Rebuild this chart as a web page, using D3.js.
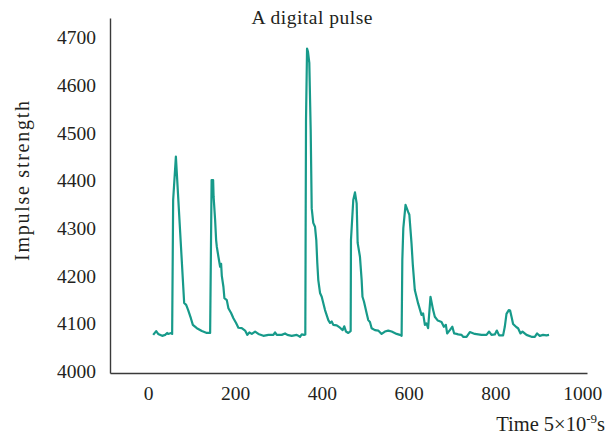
<!DOCTYPE html>
<html>
<head>
<meta charset="utf-8">
<script src="https://cdn.jsdelivr.net/npm/d3@7"></script>
<style>
  html, body { margin: 0; padding: 0; background: #fff; }
  svg { display: block; }
  text { font-family: "Liberation Serif", "Times New Roman", serif; fill: #231f20; }
</style>
</head>
<body>
<svg id="chart" width="615" height="436"></svg>
<script>
// Sample times (units of 5 ns)
const time = [
  11.5, 18.4, 23, 32.2, 39.1, 43.7, 46, 52.9, 55.2, 57.5, 63.8, 82.9, 87.5, 92.1, 98.3,
  102.9, 112.1, 123.6, 135.1, 142.7, 146.1, 149.6, 150.7, 154.2, 156.5, 158.1, 161.8,
  165.7, 168, 169.6, 173.3, 175.6, 181.1, 184.8, 191, 196.3, 202.5, 207.8, 215.6, 223.2,
  228.5, 233.1, 238.7, 246.3, 253.9, 265.4, 276.9, 288.4, 292.3, 296.2, 307.7, 315.3,
  320.6, 330.7, 342.2, 349.8, 353.7, 359, 362, 363.6, 366, 368.2, 371.2, 374.4, 376.7,
  380.3, 384.3, 387.3, 389.6, 391.9, 395.9, 399.8, 407.4, 415, 418.9, 422.8, 426.5,
  434.3, 441.9, 448.1, 451.8, 455.7, 461, 464.9, 466.5, 467.2, 472.5, 476.4, 480.3,
  482.6, 487.9, 491.8, 493.7, 497.1, 503.4, 507, 510.9, 514.8, 522.4, 530, 537.8, 545.4,
  553, 560.9, 572.4, 580, 583.9, 585.5, 587.8, 592.9, 598.9, 601.7, 606.7, 609.7, 614.3,
  621.9, 629.7, 633.4, 637.5, 641.2, 644.9, 650.4, 656.5, 660.4, 667.3, 675.8, 681.2,
  685.8, 688.8, 695, 700.8, 704.9, 710.5, 714.2, 722, 725.6, 733.5, 741.1, 752.6, 768,
  779.5, 785.5, 791, 798.6, 803.2, 808.5, 817.7, 821.6, 825.5, 830.8, 833.8, 837.1,
  840.7, 848.6, 852.2, 857.8, 862.4, 871.6, 883.1, 890.7, 896, 902.2, 909.8, 917.6, 923.6
];

// Impulse strength at each sample
const strength = [
  4076, 4084, 4078, 4074, 4076, 4080, 4078, 4080, 4078, 4359, 4450, 4143, 4139, 4128, 4111,
  4097, 4090, 4084, 4080, 4080, 4401, 4401, 4366, 4317, 4275, 4261, 4240,
  4219, 4225, 4200, 4177, 4153, 4149, 4132, 4122, 4111, 4101, 4091, 4090, 4085,
  4076, 4081, 4078, 4083, 4078, 4074, 4076, 4076, 4081, 4076, 4076, 4079,
  4076, 4074, 4076, 4072, 4077, 4076, 4077, 4527, 4677, 4670, 4647, 4506, 4342,
  4311, 4303, 4275, 4227, 4191, 4164, 4156, 4128, 4107, 4101, 4104, 4097,
  4096, 4091, 4086, 4094, 4083, 4080, 4083, 4084, 4275, 4359, 4375, 4352,
  4269, 4240, 4191, 4156, 4146, 4121, 4107, 4103, 4090, 4086, 4085, 4078, 4083,
  4085, 4083, 4078, 4076, 4074, 4233, 4300, 4349, 4334, 4328, 4268, 4223, 4170,
  4142, 4118, 4121, 4097, 4100, 4090, 4156, 4128, 4114, 4106, 4103, 4093,
  4097, 4079, 4086, 4093, 4079, 4078, 4077, 4076, 4072, 4072, 4082, 4078, 4076,
  4076, 4083, 4076, 4077, 4085, 4075, 4075, 4093, 4120, 4128, 4127, 4114,
  4099, 4092, 4090, 4079, 4083, 4076, 4072, 4072, 4079, 4074, 4076, 4075, 4076
];

const xTicks = [0, 200, 400, 600, 800, 1000];
const yTicks = [4000, 4100, 4200, 4300, 4400, 4500, 4600, 4700];

const svg = d3.select("#chart");
const plotLeft = 110, plotRight = 587, plotTop = 18, plotBottom = 373;

const x = d3.scaleLinear().domain([-88, 1011]).range([plotLeft, plotRight]);
const y = d3.scaleLinear().domain([3996, 4741]).range([plotBottom, plotTop]);

// Axes: plain lines with labels, no tick marks
const xAxis = d3.axisBottom(x).tickValues(xTicks).tickSize(0).tickPadding(13).tickFormat(d3.format("d"));
const yAxis = d3.axisLeft(y).tickValues(yTicks).tickSize(0).tickPadding(14).tickFormat(d3.format("d"));

const gx = svg.append("g").attr("transform", `translate(0,${plotBottom})`).call(xAxis);
const gy = svg.append("g").attr("transform", `translate(${plotLeft},0)`).call(yAxis);

[gx, gy].forEach(g => {
  g.select(".domain").attr("stroke", "#3a3a3a").attr("stroke-width", 1.4);
  g.selectAll("text")
    .attr("fill", "#231f20")
    .style("font-family", '"Liberation Serif", serif')
    .style("font-size", "19.5px");
});

// Pulse trace
const data = time.map((t, i) => ({ t, v: strength[i] }));
const line = d3.line().x(d => x(d.t)).y(d => y(d.v));

svg.append("path")
  .datum(data)
  .attr("fill", "none")
  .attr("stroke", "#179a8a")
  .attr("stroke-width", 2.2)
  .attr("stroke-linejoin", "round")
  .attr("d", line);

// Title
svg.append("text")
  .attr("x", 312).attr("y", 24)
  .attr("text-anchor", "middle")
  .attr("textLength", 121)
  .attr("lengthAdjust", "spacing")
  .style("font-size", "19.5px")
  .text("A digital pulse");

// Y axis title
svg.append("text")
  .attr("transform", "translate(29,181) rotate(-90)")
  .attr("text-anchor", "middle")
  .attr("textLength", 160)
  .attr("lengthAdjust", "spacing")
  .style("font-size", "20px")
  .text("Impulse strength");

// X axis title with superscript exponent
const xt = svg.append("text")
  .attr("x", 605).attr("y", 431)
  .attr("text-anchor", "end")
  .style("font-size", "20.5px");
xt.append("tspan").text("Time 5×10");
xt.append("tspan").attr("dy", -8).style("font-size", "13px").text("-9");
xt.append("tspan").attr("dy", 8).text("s");
</script>
</body>
</html>
